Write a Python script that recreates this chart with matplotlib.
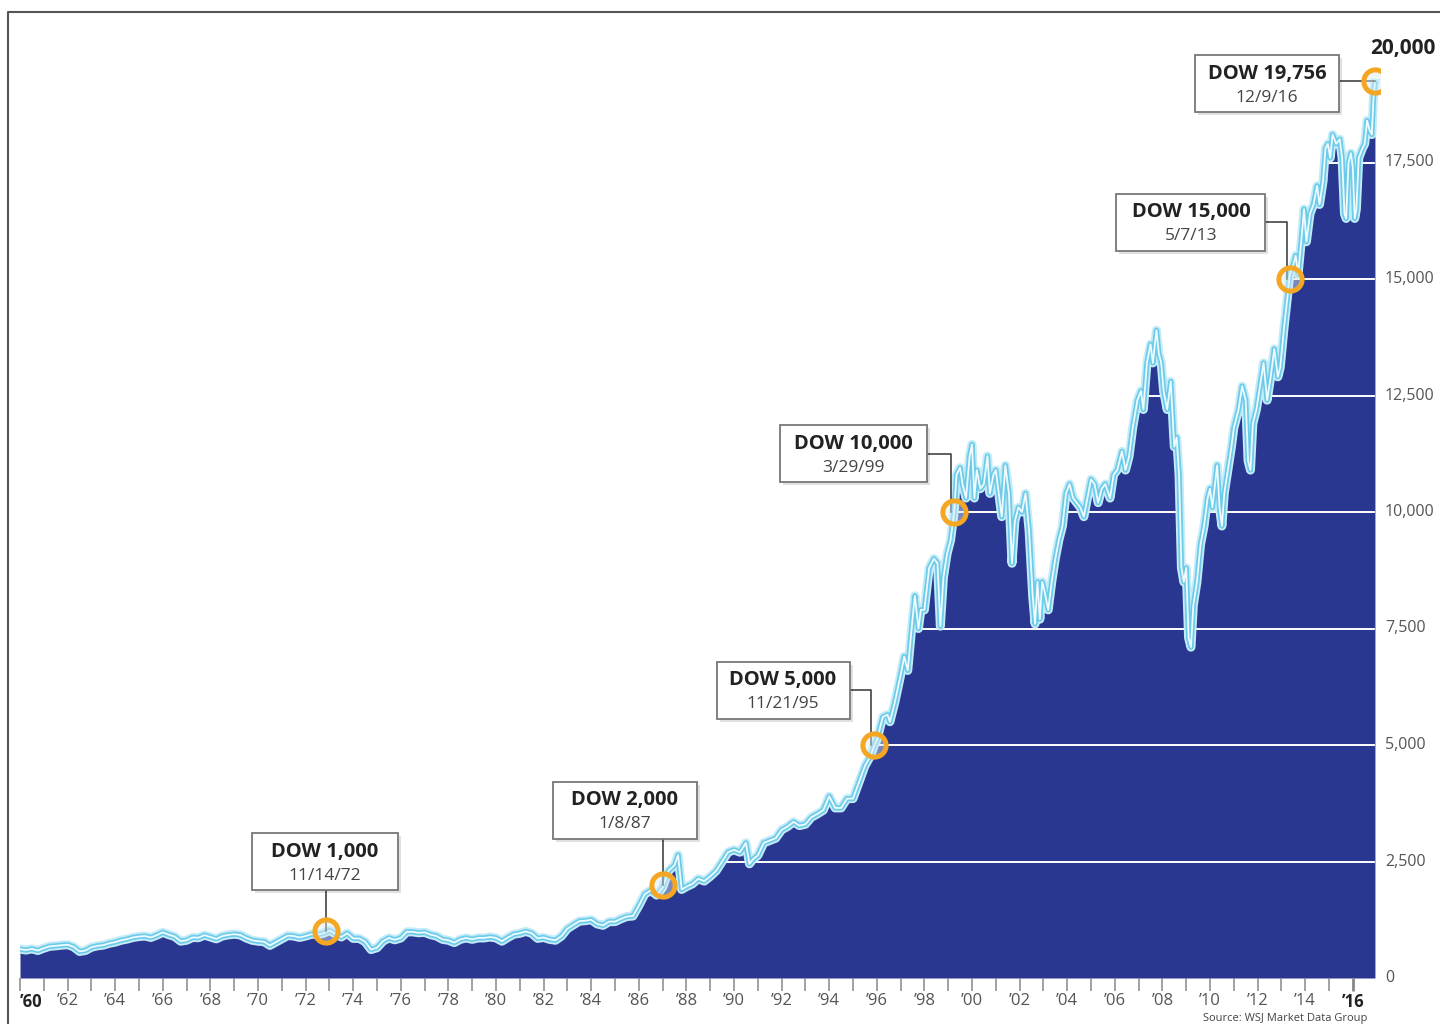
import matplotlib
matplotlib.use("Agg")
import matplotlib.pyplot as plt
from matplotlib.lines import Line2D
from matplotlib.patches import Rectangle
import matplotlib.transforms as mtransforms

plt.rcParams["font.family"] = ["Open Sans", "DejaVu Sans"]

# DJIA level (decimal year, index value)
dates = [
    1960.0, 1960.25, 1960.5, 1960.75, 1961.0, 1961.25, 1961.5, 1961.75,
    1962.0, 1962.25, 1962.5, 1962.75, 1963.0, 1963.25, 1963.5, 1963.75,
    1964.0, 1964.25, 1964.5, 1964.75, 1965.0, 1965.25, 1965.5, 1965.75,
    1966.0, 1966.25, 1966.5, 1966.75, 1967.0, 1967.25, 1967.5, 1967.75,
    1968.0, 1968.25, 1968.5, 1968.75, 1969.0, 1969.25, 1969.5, 1969.75,
    1970.0, 1970.25, 1970.5, 1970.75, 1971.0, 1971.25, 1971.5, 1971.75,
    1972.0, 1972.25, 1972.5, 1972.75, 1973.0, 1973.25, 1973.5, 1973.75,
    1974.0, 1974.25, 1974.5, 1974.75, 1975.0, 1975.25, 1975.5, 1975.75,
    1976.0, 1976.25, 1976.5, 1976.75, 1977.0, 1977.25, 1977.5, 1977.75,
    1978.0, 1978.25, 1978.5, 1978.75, 1979.0, 1979.25, 1979.5, 1979.75,
    1980.0, 1980.25, 1980.5, 1980.75, 1981.0, 1981.25, 1981.5, 1981.75,
    1982.0, 1982.25, 1982.5, 1982.75, 1983.0, 1983.25, 1983.5, 1983.75,
    1984.0, 1984.25, 1984.5, 1984.75, 1985.0, 1985.25, 1985.5, 1985.75,
    1986.0, 1986.25, 1986.5, 1986.75, 1987.0, 1987.25, 1987.5, 1987.65,
    1987.8, 1988.0, 1988.25, 1988.5, 1988.75, 1989.0, 1989.25, 1989.5, 1989.75,
    1990.0, 1990.25, 1990.5, 1990.65, 1990.8, 1991.0, 1991.25, 1991.5, 1991.75,
    1992.0, 1992.25, 1992.5, 1992.75, 1993.0, 1993.25, 1993.5, 1993.75,
    1994.0, 1994.25, 1994.5, 1994.75, 1995.0, 1995.25, 1995.5, 1995.75,
    1995.9, 1996.0, 1996.25, 1996.45, 1996.55, 1996.75, 1997.0, 1997.15,
    1997.3, 1997.5, 1997.6, 1997.75, 1997.85, 1998.0, 1998.2, 1998.4,
    1998.55, 1998.67, 1998.8, 1998.95, 1999.1, 1999.25, 1999.35, 1999.5,
    1999.6, 1999.75, 1999.9, 2000.0, 2000.1, 2000.2, 2000.35, 2000.5,
    2000.65, 2000.75, 2000.9, 2001.0, 2001.15, 2001.25, 2001.4, 2001.55,
    2001.68, 2001.8, 2001.95, 2002.1, 2002.25, 2002.4, 2002.55, 2002.65,
    2002.75, 2002.85, 2002.95, 2003.05, 2003.2, 2003.35, 2003.5, 2003.65,
    2003.8, 2003.95, 2004.1, 2004.25, 2004.4, 2004.55, 2004.7, 2004.85,
    2005.0, 2005.15, 2005.3, 2005.45, 2005.6, 2005.8, 2005.95, 2006.1,
    2006.3, 2006.45, 2006.6, 2006.75, 2006.95, 2007.1, 2007.2, 2007.35,
    2007.5, 2007.6, 2007.75, 2007.85, 2007.95, 2008.05, 2008.2, 2008.35,
    2008.5, 2008.6, 2008.7, 2008.8, 2008.9, 2009.0, 2009.1, 2009.2,
    2009.3, 2009.45, 2009.6, 2009.75, 2009.9, 2010.0, 2010.1, 2010.3,
    2010.4, 2010.5, 2010.6, 2010.75, 2010.9, 2011.0, 2011.2, 2011.35,
    2011.5, 2011.6, 2011.7, 2011.8, 2011.95, 2012.1, 2012.25, 2012.4,
    2012.55, 2012.7, 2012.85, 2012.95, 2013.1, 2013.25, 2013.35, 2013.5,
    2013.6, 2013.7, 2013.85, 2013.95, 2014.05, 2014.2, 2014.35, 2014.5,
    2014.6, 2014.75, 2014.85, 2014.95, 2015.05, 2015.15, 2015.3, 2015.45,
    2015.55, 2015.65, 2015.72, 2015.82, 2015.92, 2016.0, 2016.08, 2016.15,
    2016.25, 2016.4, 2016.5, 2016.6, 2016.7, 2016.8, 2016.87, 2016.93,
]
values = [
    620, 600, 625, 590, 640, 680, 690, 705,
    715, 670, 570, 590, 660, 690, 705, 745,
    770, 810, 835, 870, 890, 900, 870, 920,
    980, 930, 890, 790, 810, 870, 865, 920,
    880, 840, 900, 925, 940, 925, 860, 810,
    790, 780, 700, 770, 840, 910, 900, 870,
    900, 940, 930, 960, 1020, 950, 880, 960,
    850, 850, 780, 610, 650, 790, 860, 820,
    860, 990, 990, 970, 980, 930, 900, 830,
    810, 760, 830, 860, 830, 860, 860, 880,
    860, 790, 870, 940, 960, 1000, 960, 850,
    870, 830, 810, 900, 1060, 1140, 1220, 1230,
    1250, 1160, 1130, 1210, 1210, 1270, 1320, 1330,
    1550, 1800, 1880, 1780, 1940, 2300, 2420, 2640,
    1900, 1960, 2020, 2130, 2080, 2180, 2300, 2500, 2700,
    2750, 2700, 2900, 2450, 2550, 2630, 2900, 2950, 3000,
    3180, 3250, 3350, 3270, 3300, 3450, 3520, 3600,
    3900, 3650, 3650, 3850, 3850, 4200, 4550, 4780,
    5000, 5100, 5600, 5650, 5500, 5900, 6500, 6900,
    6600, 7700, 8200, 7500, 7900, 7900, 8800, 9000,
    8900, 7550, 8600, 9100, 9400, 10000, 10800, 10950,
    10600, 10300, 11200, 11450, 10300, 10900, 10500, 10600,
    11200, 10400, 10800, 10900, 10300, 9900, 11000, 10400,
    8900, 9800, 10100, 10000, 10400, 9600, 8200, 7600,
    8500, 7700, 8500, 8300, 7900, 8500, 9000, 9400,
    9700, 10400, 10600, 10300, 10200, 10100, 9900, 10300,
    10700, 10600, 10200, 10500, 10600, 10300, 10800, 10900,
    11300, 10900, 11200, 11800, 12400, 12600, 12200, 13200,
    13600, 13200, 13900, 13400, 13200, 12600, 12200, 12800,
    11400, 11600, 10800, 8800, 8500, 8800, 7300, 7100,
    8000, 8500, 9300, 9700, 10300, 10500, 10100, 11000,
    10100, 9700, 10400, 10900, 11400, 11800, 12200, 12700,
    12400, 11100, 10900, 11900, 12200, 12700, 13200, 12400,
    12900, 13500, 12900, 13100, 13900, 14600, 15100, 15300,
    15500, 15100, 15900, 16500, 15800, 16400, 16600, 17000,
    16600, 17100, 17800, 17900, 17600, 18100, 17900, 18000,
    17600, 16400, 16300, 17500, 17700, 17400, 16300, 16500,
    17600, 17800, 17900, 18400, 18200, 18100, 18900, 19200,
]

grid_levels = [2500, 5000, 7500, 10000, 12500, 15000, 17500]
grid_starts = [1989.3, 1995.8, 1997.8, 1999.25, 2007.1, 2013.3, 2014.9]
ytick_vals = [0, 2500, 5000, 7500, 10000, 12500, 15000, 17500]
ytick_labels = ["0", "2,500", "5,000", "7,500", "10,000", "12,500", "15,000", "17,500"]
year_ticks = list(range(1960, 2017))
year_labels = ["\u2019%02d" % (y % 100) if y % 2 == 0 else "" for y in year_ticks]

# milestones: title, date label, point (year, value), box centre (year, value)
milestone_titles = ["DOW 1,000", "DOW 2,000", "DOW 5,000", "DOW 10,000", "DOW 15,000", "DOW 19,756"]
milestone_dates = ["11/14/72", "1/8/87", "11/21/95", "3/29/99", "5/7/13", "12/9/16"]
milestone_x = [1972.87, 1987.02, 1995.89, 1999.24, 2013.35, 2016.93]
milestone_y = [1000, 2000, 5000, 10000, 15000, 19250]
box_x = [1972.82, 1985.42, 1992.06, 1995.0, 2009.2, 2012.4]
box_y = [2500, 3605, 6180, 11245, 16220, 19185]
box_w_px = [146, 144, 133, 147, 149, 144]

FILL = "#293791"
W, H = 1440, 1024
AX_L, AX_R, AX_B, AX_T = 20, 1380, 978, 12   # pixel edges of the plot area
PX_PER_YEAR = 23.8
PX_PER_UNIT = 0.0466

fig = plt.figure(figsize=(W / 100, H / 100), dpi=100)
ax = fig.add_axes([AX_L / W, (H - AX_B) / H, (AX_R - AX_L) / W, (AX_B - AX_T) / H])
ax.set_xlim(1960, 1960 + (AX_R - AX_L) / PX_PER_YEAR)
ax.set_ylim(0, (AX_B - AX_T) / PX_PER_UNIT)
px_x = 1 / PX_PER_YEAR
px_y = 1 / PX_PER_UNIT

for s in ax.spines.values():
    s.set_visible(False)

area = ax.fill_between(dates, values, 0, color=FILL, lw=0, zorder=1)
clip = area.get_paths()[0]
for lvl, x0 in zip(grid_levels, grid_starts):
    gl = ax.hlines(lvl, x0, dates[-1], color="white", lw=1.4, zorder=2)
    gl.set_clip_path(clip, ax.transData)

ax.plot(dates, values, color="#c4ebf8", lw=6.5, solid_joinstyle="round", zorder=3)
ax.plot(dates, values, color="#6ccbe9", lw=3.8, solid_joinstyle="round", zorder=3)
ax.plot(dates, values, color="#effbff", lw=1.3, solid_joinstyle="round", zorder=3)

# x axis ticks
ax.set_xticks(year_ticks)
ax.set_xticklabels(year_labels, fontsize=12, color="#555555")
ax.tick_params(axis="x", direction="out", length=9, width=1.1, color="#888888", pad=2)
for lab in ax.get_xticklabels():
    if lab.get_text() in ("\u201960", "\u201916"):
        lab.set_fontweight("bold")
        lab.set_color("#222222")
ax.get_xticklabels()[0].set_ha("left")
last_tick = ax.xaxis.get_major_ticks()[-1]
last_tick.tick1line.set_color("#222222")
last_tick.tick1line.set_markeredgewidth(2)
ax.set_yticks([])

# y labels at right
ytr = mtransforms.blended_transform_factory(ax.transAxes, ax.transData)
for v, t in zip(ytick_vals, ytick_labels):
    ax.text(1 + 5 / (AX_R - AX_L), v, t, transform=ytr, ha="left", va="center",
            fontsize=11.5, color="#555555")
ax.text((1436 - AX_L) / (AX_R - AX_L), 19950, "20,000", transform=ytr, ha="right",
        va="center", fontsize=15, fontweight="bold", color="#222222")

# milestone markers and boxes
box_h = 57 * px_y
for title, date, mx, my, bx, by, bw in zip(milestone_titles, milestone_dates, milestone_x,
                                           milestone_y, box_x, box_y, box_w_px):
    w = bw * px_x
    left, right = bx - w / 2, bx + w / 2
    if left < mx < right:
        ax.plot([mx, mx], [by - box_h / 2, my], color="#444444", lw=1.2, zorder=4)
    elif my > by - 3 * px_y and my < by + box_h / 2:
        ax.plot([right, mx], [my, my], color="#444444", lw=1.2, zorder=4)
    else:
        ax.plot([right, mx - 3 * px_x, mx - 3 * px_x], [by, by, my], color="#444444", lw=1.2, zorder=4)
    ax.add_patch(Rectangle((left + 3 * px_x, by - box_h / 2 - 3 * px_y), w, box_h,
                           facecolor="#000000", alpha=0.12, lw=0, zorder=5))
    ax.add_patch(Rectangle((left, by - box_h / 2), w, box_h, facecolor="white",
                           edgecolor="#777777", lw=1.3, zorder=6))
    ax.text(bx, by + 10 * px_y, title, ha="center", va="center", fontsize=14.5,
            fontweight="bold", color="#222222", zorder=7)
    ax.text(bx, by - 14 * px_y, date, ha="center", va="center", fontsize=12.5,
            color="#444444", zorder=7)

ax.scatter(milestone_x, milestone_y, s=280, facecolors=[(0.85, 0.93, 0.97, 0.45)],
           edgecolors="#f5a623", linewidths=3.6, zorder=8)

# outer frame and source line
fig.add_artist(Line2D([8 / W, 8 / W, 1], [0, 1 - 12 / H, 1 - 12 / H],
                      transform=fig.transFigure, color="#555555", lw=1.5))
fig.text(1285 / W, 1 - 1018 / H, "Source: WSJ Market Data Group", ha="center", va="center",
         fontsize=8, color="#444444")

fig.savefig("out.png", dpi=100)
